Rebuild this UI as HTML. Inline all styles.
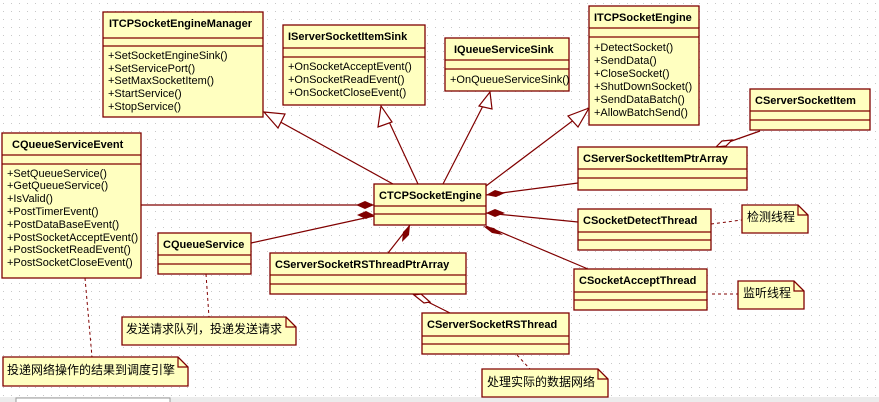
<!DOCTYPE html>
<html><head><meta charset="utf-8"><style>
html,body{margin:0;padding:0;}
body{width:879px;height:402px;overflow:hidden;background:#fff;}
svg{display:block;}
text{font-family:"Liberation Sans","Noto Sans CJK SC",sans-serif;font-size:11px;fill:#000;}
.h{font-weight:bold;font-size:11px;}
.c{font-family:"Liberation Sans","Noto Sans CJK SC",sans-serif;font-size:12px;}
.b{fill:#ffffc0;stroke:#800000;stroke-width:1.3;}
.l{stroke:#800000;stroke-width:1.2;fill:none;}
.d{stroke:#800000;stroke-width:1;fill:none;stroke-dasharray:3,3;}
</style></head><body>
<svg width="879" height="402" viewBox="0 0 879 402" xmlns="http://www.w3.org/2000/svg">
<defs>
<pattern id="g" width="8" height="8" patternUnits="userSpaceOnUse"><rect x="3" y="3" width="1" height="1" fill="#c8c8c8"/></pattern>
</defs>
<rect width="879" height="402" fill="url(#g)"/>
<rect x="0" y="397" width="879" height="5" fill="#ececec"/>
<rect x="16" y="398" width="154" height="6" fill="#fff" stroke="#999"/>

<g class="l">
<line x1="393" y1="184" x2="275" y2="119"/>
<line x1="418" y1="184" x2="385" y2="113"/>
<line x1="443" y1="184" x2="486" y2="100"/>
<line x1="486" y1="186" x2="575" y2="119"/>
<line x1="141" y1="205" x2="374" y2="205"/>
<line x1="251" y1="243" x2="374" y2="216"/>
<line x1="578" y1="183" x2="486" y2="195"/>
<line x1="578" y1="222" x2="486" y2="213"/>
<line x1="588" y1="269" x2="486" y2="226"/>
<line x1="388" y1="253" x2="410" y2="225"/>
<line x1="760" y1="131" x2="726" y2="143"/>
<line x1="428" y1="302" x2="450" y2="313"/>
</g>
<g fill="#fff" stroke="#800000" stroke-width="1.2">
<polygon points="264,112 285,114 278,128"/>
<polygon points="381,106 378,127 392,122"/>
<polygon points="490,92 479,106 492,109"/>
<polygon points="589,108 568,116 578,127"/>
<polygon points="716,147 722,141 732,140 726,146"/>
<polygon points="414,295 421,294 430,302 424,303"/>
</g>
<g fill="#800000">
<polygon points="374,205 365,201 356,205 365,209"/>
<polygon points="374,215 366,211 357,215 366,219"/>
<polygon points="486,195 495,190 505,193 496,197"/>
<polygon points="486,213 495,209 505,213 495,217"/>
<polygon points="483,226 494,228 503,235 492,233"/>
<polygon points="410,225 409,235 402,242 403,232"/>
</g>
<g class="d">
<line x1="85" y1="278" x2="92" y2="357"/>
<line x1="206" y1="274" x2="209" y2="317"/>
<line x1="711" y1="224" x2="742" y2="220"/>
<line x1="712" y1="294" x2="738" y2="294"/>
<line x1="517" y1="355" x2="530" y2="369"/>
</g>

<g>
<rect class="b" x="103" y="12" width="160" height="105"/><line class="l" x1="103" y1="38" x2="263" y2="38"/><line class="l" x1="103" y1="46" x2="263" y2="46"/>
<text class="h" x="109" y="27">ITCPSocketEngineManager</text>
<text x="108" y="59">+SetSocketEngineSink()</text><text x="108" y="72">+SetServicePort()</text><text x="108" y="84">+SetMaxSocketItem()</text><text x="108" y="97">+StartService()</text><text x="108" y="110">+StopService()</text>

<rect class="b" x="283" y="25" width="142" height="80"/><line class="l" x1="283" y1="48" x2="425" y2="48"/><line class="l" x1="283" y1="57" x2="425" y2="57"/>
<text class="h" x="288" y="40">IServerSocketItemSink</text>
<text x="288" y="70">+OnSocketAcceptEvent()</text><text x="288" y="83">+OnSocketReadEvent()</text><text x="288" y="96">+OnSocketCloseEvent()</text>

<rect class="b" x="445" y="38" width="124" height="53"/><line class="l" x1="445" y1="60" x2="569" y2="60"/><line class="l" x1="445" y1="69" x2="569" y2="69"/>
<text class="h" x="454" y="53">IQueueServiceSink</text>
<text x="450" y="83">+OnQueueServiceSink()</text>

<rect class="b" x="589" y="6" width="110" height="119"/><line class="l" x1="589" y1="28" x2="699" y2="28"/><line class="l" x1="589" y1="37" x2="699" y2="37"/>
<text class="h" x="594" y="21">ITCPSocketEngine</text>
<text x="594" y="51">+DetectSocket()</text><text x="594" y="64">+SendData()</text><text x="594" y="77">+CloseSocket()</text><text x="594" y="90">+ShutDownSocket()</text><text x="594" y="103">+SendDataBatch()</text><text x="594" y="116">+AllowBatchSend()</text>

<rect class="b" x="750" y="89" width="120" height="41"/><line class="l" x1="750" y1="111" x2="870" y2="111"/><line class="l" x1="750" y1="120" x2="870" y2="120"/>
<text class="h" x="755" y="104">CServerSocketItem</text>

<rect class="b" x="2" y="133" width="139" height="145"/><line class="l" x1="2" y1="155" x2="141" y2="155"/><line class="l" x1="2" y1="164" x2="141" y2="164"/>
<text class="h" x="12" y="148">CQueueServiceEvent</text>
<text x="7" y="177">+SetQueueService()</text><text x="7" y="189">+GetQueueService()</text><text x="7" y="202">+IsValid()</text><text x="7" y="215">+PostTimerEvent()</text><text x="7" y="228">+PostDataBaseEvent()</text><text x="7" y="241">+PostSocketAcceptEvent()</text><text x="7" y="253">+PostSocketReadEvent()</text><text x="7" y="266">+PostSocketCloseEvent()</text>

<rect class="b" x="374" y="184" width="112" height="41"/><line class="l" x1="374" y1="206" x2="486" y2="206"/><line class="l" x1="374" y1="214" x2="486" y2="214"/>
<text class="h" x="379" y="199">CTCPSocketEngine</text>

<rect class="b" x="578" y="147" width="169" height="43"/><line class="l" x1="578" y1="169" x2="747" y2="169"/><line class="l" x1="578" y1="178" x2="747" y2="178"/>
<text class="h" x="583" y="162">CServerSocketItemPtrArray</text>

<rect class="b" x="578" y="209" width="133" height="41"/><line class="l" x1="578" y1="232" x2="711" y2="232"/><line class="l" x1="578" y1="240" x2="711" y2="240"/>
<text class="h" x="583" y="224">CSocketDetectThread</text>

<rect class="b" x="574" y="269" width="133" height="41"/><line class="l" x1="574" y1="292" x2="707" y2="292"/><line class="l" x1="574" y1="300" x2="707" y2="300"/>
<text class="h" x="579" y="284">CSocketAcceptThread</text>

<rect class="b" x="158" y="233" width="93" height="41"/><line class="l" x1="158" y1="255" x2="251" y2="255"/><line class="l" x1="158" y1="264" x2="251" y2="264"/>
<text class="h" x="163" y="248">CQueueService</text>

<rect class="b" x="270" y="253" width="196" height="41"/><line class="l" x1="270" y1="275" x2="466" y2="275"/><line class="l" x1="270" y1="284" x2="466" y2="284"/>
<text class="h" x="275" y="268">CServerSocketRSThreadPtrArray</text>

<rect class="b" x="422" y="313" width="147" height="41"/><line class="l" x1="422" y1="336" x2="569" y2="336"/><line class="l" x1="422" y1="344" x2="569" y2="344"/>
<text class="h" x="427" y="328">CServerSocketRSThread</text>
</g>

<g>
<path class="b" d="M742,205 H798 L808,215 V233 H742 Z"/><path class="l" d="M798,205 V215 H808"/>
<text class="c" x="747" y="221">检测线程</text>
<path class="b" d="M738,281 H794 L804,291 V309 H738 Z"/><path class="l" d="M794,281 V291 H804"/>
<text class="c" x="743" y="297">监听线程</text>
<path class="b" d="M482,369 H598 L608,379 V397 H482 Z"/><path class="l" d="M598,369 V379 H608"/>
<text class="c" x="487" y="386">处理实际的数据网络</text>
<path class="b" d="M122,317 H286 L296,327 V345 H122 Z"/><path class="l" d="M286,317 V327 H296"/>
<text class="c" x="126" y="333">发送请求队列，投递发送请求</text>
<path class="b" d="M3,357 H178 L188,367 V386 H3 Z"/><path class="l" d="M178,357 V367 H188"/>
<text class="c" x="7" y="374">投递网络操作的结果到调度引擎</text>
</g>
</svg>
</body></html>
